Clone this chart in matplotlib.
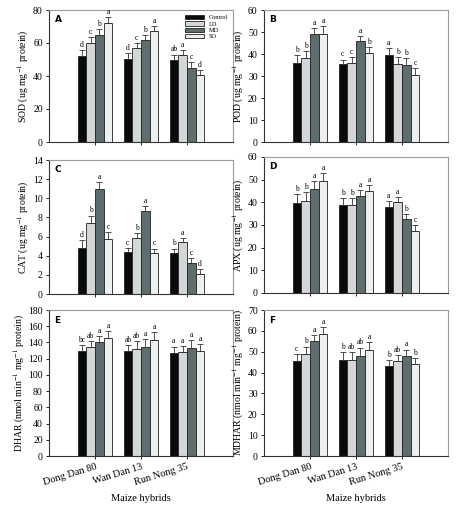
import numpy as np
import matplotlib
matplotlib.use('Agg')
from matplotlib import pyplot as pp

################################################################################
# Data
hybrids = ['Dong Dan 80', 'Wan Dan 13', 'Run Nong 35']
treatments = ['Control', 'LD', 'MD', 'SO']

# rows = treatments, cols = hybrids
sod = [[52, 50.5, 49.5], [60, 57, 53], [65, 62, 45], [72, 67, 40.5]]
sod_err = [[3.5, 3.5, 3.5], [3.5, 3, 3], [3.5, 3, 3.5], [3.5, 3, 3]]
sod_let = [['d', 'd', 'ab'], ['c', 'c', 'a'], ['b', 'b', 'c'], ['a', 'a', 'd']]

pod = [[36, 35.5, 39.5], [38, 36, 35.5], [49, 46, 35], [49, 40.5, 30.5]]
pod_err = [[3.5, 2, 3], [3.5, 2.5, 3], [3, 2, 3], [3.5, 2.5, 3]]
pod_let = [['b', 'c', 'a'], ['b', 'c', 'b'], ['a', 'a', 'b'], ['a', 'b', 'c']]

cat = [[4.8, 4.35, 4.25], [7.4, 5.9, 5.45], [11.0, 8.7, 3.25], [5.7, 4.25, 2.1]]
cat_err = [[0.8, 0.5, 0.5], [0.8, 0.5, 0.4], [0.7, 0.5, 0.5], [0.8, 0.5, 0.5]]
cat_let = [['d', 'c', 'b'], ['b', 'b', 'a'], ['a', 'a', 'c'], ['c', 'c', 'd']]

apx = [[39.5, 39, 38], [40.5, 39, 40], [46, 43, 32.5], [49.5, 45, 27.5]]
apx_err = [[4, 3, 2.5], [4, 3, 2.5], [3.5, 2.5, 2.5], [3.5, 2.5, 2.5]]
apx_let = [['b', 'b', 'a'], ['b', 'b', 'a'], ['a', 'a', 'b'], ['a', 'a', 'c']]

dhar = [[130, 129, 127], [134, 131.5, 128], [140, 135, 133.5], [146, 143, 130]]
dhar_err = [[7, 8, 8], [8, 10, 8], [8, 9, 9], [8, 10, 8]]
dhar_let = [['bc', 'ab', 'a'], ['ab', 'ab', 'a'], ['a', 'a', 'a'], ['a', 'a', 'a']]

mdhar = [[45.5, 46, 43], [49, 46, 45.5], [55, 48, 48], [58.5, 51, 44]]
mdhar_err = [[3.5, 4, 3], [3.5, 4, 3], [3, 4, 3], [3.5, 3.5, 3]]
mdhar_let = [['c', 'b', 'b'], ['b', 'ab', 'ab'], ['a', 'ab', 'a'], ['a', 'a', 'b']]

################################################################################
pp.rcParams['font.family'] = 'Liberation Serif'
pp.rcParams['mathtext.fontset'] = 'stix'
pp.rcParams['font.size'] = 7

colors = ['#0a0a0a', '#d3d7d7', '#5e6d6d', '#eef0f0']
bw = 0.19

fig = pp.figure(figsize=(4.74, 5.08), dpi=100)
W, H = 474., 508.

def axes_px(x0, y0, x1, y1):
	return fig.add_axes([x0/W, 1 - y1/H, (x1 - x0)/W, (y1 - y0)/H])

panels = [
	('A', sod, sod_err, sod_let, 80, 20, 'SOD (ug mg$^{-1}$ protein)', (49, 10, 233, 142)),
	('B', pod, pod_err, pod_let, 60, 10, 'POD (ug mg$^{-1}$ protein)', (264, 10, 448, 142)),
	('C', cat, cat_err, cat_let, 14, 2, 'CAT (ug mg$^{-1}$ protein)', (49, 160, 233, 294)),
	('D', apx, apx_err, apx_let, 60, 10, 'APX (ug mg$^{-1}$ protein)', (264, 157, 448, 293)),
	('E', dhar, dhar_err, dhar_let, 180, 20, 'DHAR (nmol min$^{-1}$ mg$^{-1}$ protein)', (49, 310, 233, 456)),
	('F', mdhar, mdhar_err, mdhar_let, 70, 10, 'MDHAR (nmol min$^{-1}$ mg$^{-1}$ protein)', (264, 310, 448, 456)),
]

x = np.arange(len(hybrids))
for (tag, vals, errs, lets, ymax, ystep, ylab, box) in panels:
	ax = axes_px(*box)
	for i in range(len(treatments)):
		xi = x + (i - 1.5)*bw
		ax.bar(xi, vals[i], bw, color=colors[i], edgecolor='#222222',
			linewidth=0.6, label=treatments[i], zorder=2)
		ax.errorbar(xi, vals[i], yerr=[np.zeros(3), errs[i]], fmt='none',
			ecolor='#333333', elinewidth=0.6, capsize=2, capthick=0.6, zorder=3)
		for j in range(len(hybrids)):
			ax.text(xi[j], vals[i][j] + errs[i][j] + ymax*0.008, lets[i][j],
				ha='center', va='bottom', fontsize=5.5)
	ax.set_xlim(-1, 3)
	ax.set_ylim(0, ymax)
	ax.set_yticks(np.arange(0, ymax + 0.1, ystep))
	ax.set_ylabel(ylab, fontsize=7, labelpad=1)
	ax.tick_params(axis='both', labelsize=7, length=2.5, width=0.6, pad=2)
	ax.set_xticks(x)
	if tag in ('E', 'F'):
		ax.set_xticklabels(hybrids, rotation=17, ha='right',
			rotation_mode='anchor', fontsize=7.5)
		ax.set_xlabel('Maize hybrids', fontsize=7.5, labelpad=5)
	else:
		ax.set_xticklabels([])
	for s in ('top', 'right'):
		ax.spines[s].set_color('#9a9a9a')
		ax.spines[s].set_linewidth(0.8)
	for s in ('left', 'bottom'):
		ax.spines[s].set_color('#333333')
		ax.spines[s].set_linewidth(0.8)
	ax.text(0.03, 0.96, tag, transform=ax.transAxes, ha='left', va='top',
		fontsize=6.5, fontweight='bold', family='DejaVu Sans')
	if tag == 'A':
		ax.legend(loc='upper right', fontsize=4.5, frameon=False,
			handlelength=3, handleheight=0.7, labelspacing=0.15,
			borderaxespad=0.4)

fig.savefig('out.png', dpi=100)
